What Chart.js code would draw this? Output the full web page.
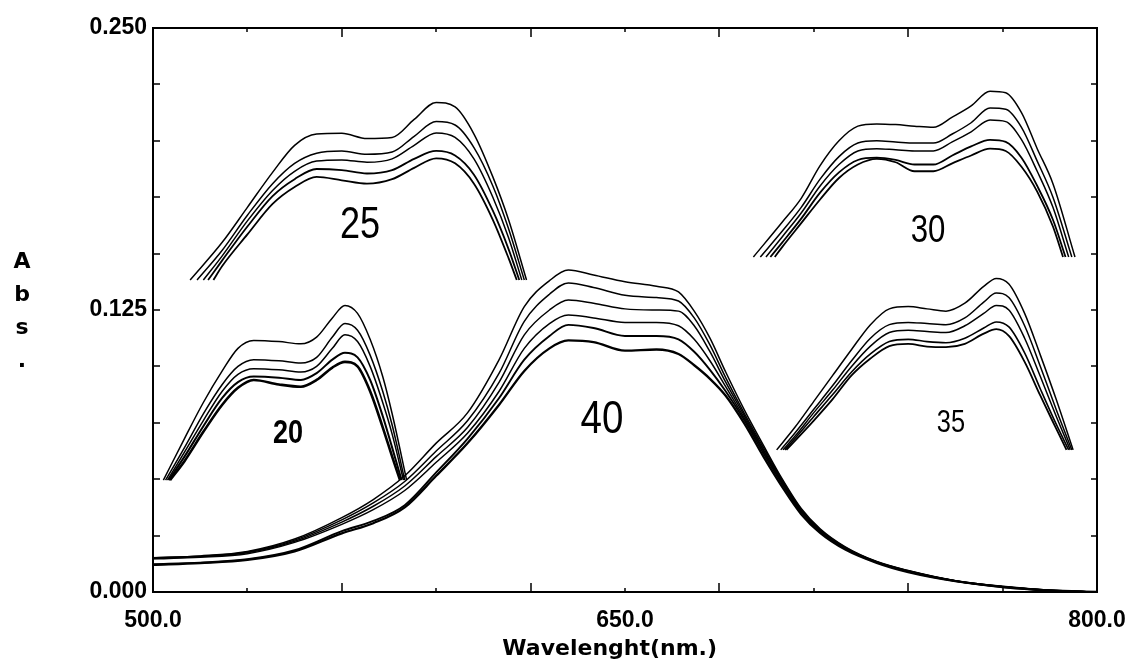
<!DOCTYPE html>
<html>
<head>
<meta charset="utf-8">
<script src="https://cdn.jsdelivr.net/npm/chart.js@4.4.0/dist/chart.umd.min.js"></script>
<style>
  html, body { margin: 0; padding: 0; background: #fff; }
</style>
</head>
<body>
<canvas id="myChart" width="1131" height="671"></canvas>
<script>
// values: wavelength (nm) / absorbance

// big spectrum set "40", six scans, full range
const x40 = [500, 515, 530, 545, 560, 570, 580, 590, 600, 610, 618, 626, 632, 640, 650, 660, 667, 672, 677, 682, 688, 694, 700, 706, 712, 720, 730, 740, 755, 770, 785, 800];
const abs40 = [
  [0.0151, 0.0160, 0.0180, 0.0235, 0.0330, 0.0410, 0.0515, 0.0660, 0.0795, 0.1030, 0.1265, 0.1380, 0.1427, 0.1405, 0.1375, 0.1355, 0.1330, 0.1245, 0.1125, 0.0975, 0.0805, 0.0650, 0.0500, 0.0370, 0.0280, 0.0200, 0.0135, 0.0095, 0.0050, 0.0025, 0.0008, 0.0000],
  [0.0152, 0.0158, 0.0177, 0.0230, 0.0320, 0.0395, 0.0490, 0.0625, 0.0760, 0.0970, 0.1200, 0.1320, 0.1370, 0.1350, 0.1315, 0.1305, 0.1290, 0.1215, 0.1095, 0.0950, 0.0790, 0.0640, 0.0495, 0.0365, 0.0277, 0.0198, 0.0134, 0.0094, 0.0050, 0.0024, 0.0008, 0.0000],
  [0.0149, 0.0156, 0.0174, 0.0225, 0.0310, 0.0380, 0.0470, 0.0600, 0.0730, 0.0930, 0.1140, 0.1250, 0.1294, 0.1280, 0.1255, 0.1250, 0.1245, 0.1180, 0.1065, 0.0930, 0.0780, 0.0630, 0.0490, 0.0360, 0.0274, 0.0196, 0.0133, 0.0093, 0.0049, 0.0023, 0.0007, 0.0000],
  [0.0147, 0.0154, 0.0170, 0.0220, 0.0300, 0.0365, 0.0450, 0.0575, 0.0705, 0.0890, 0.1080, 0.1190, 0.1228, 0.1215, 0.1195, 0.1195, 0.1180, 0.1120, 0.1025, 0.0910, 0.0770, 0.0625, 0.0485, 0.0358, 0.0270, 0.0194, 0.0132, 0.0092, 0.0049, 0.0023, 0.0007, 0.0000],
  [0.0123, 0.0130, 0.0145, 0.0185, 0.0270, 0.0315, 0.0385, 0.0530, 0.0680, 0.0860, 0.1030, 0.1135, 0.1184, 0.1170, 0.1135, 0.1135, 0.1120, 0.1065, 0.0985, 0.0890, 0.0760, 0.0615, 0.0478, 0.0355, 0.0268, 0.0192, 0.0131, 0.0090, 0.0048, 0.0022, 0.0007, 0.0000],
  [0.0120, 0.0128, 0.0142, 0.0180, 0.0260, 0.0305, 0.0375, 0.0515, 0.0660, 0.0830, 0.0980, 0.1080, 0.1115, 0.1108, 0.1070, 0.1075, 0.1055, 0.1005, 0.0945, 0.0870, 0.0745, 0.0600, 0.0465, 0.0345, 0.0262, 0.0188, 0.0129, 0.0088, 0.0048, 0.0022, 0.0007, 0.0000]
];

// small sets, each cut off at its own base level
const x20 = [510, 516, 522, 527, 532, 540, 547, 552, 557, 561, 565, 569, 573, 576];
const start20 = [503.3, 504, 504.6, 505, 505.4];
const end20 = [580.6, 580, 579.6, 579, 578.5];
const base20 = 0.0496;
const abs20 = [
  [0.068, 0.084, 0.098, 0.108, 0.1115, 0.111, 0.110, 0.113, 0.1215, 0.127, 0.1235, 0.112, 0.0955, 0.079],
  [0.064, 0.079, 0.092, 0.100, 0.103, 0.1025, 0.1015, 0.104, 0.113, 0.119, 0.116, 0.105, 0.089, 0.074],
  [0.062, 0.076, 0.089, 0.0965, 0.099, 0.0985, 0.0975, 0.100, 0.108, 0.114, 0.111, 0.100, 0.084, 0.070],
  [0.060, 0.0735, 0.086, 0.093, 0.0955, 0.095, 0.094, 0.097, 0.103, 0.106, 0.104, 0.094, 0.078, 0.064],
  [0.058, 0.071, 0.083, 0.0905, 0.094, 0.092, 0.091, 0.094, 0.0995, 0.102, 0.100, 0.089, 0.073, 0.060]
];

const x25 = [522, 530, 538, 545, 552, 560, 568, 576, 583, 590, 596, 602, 608, 613];
const start25 = [511.8, 514, 516, 517.5, 519.2];
const end25 = [618.7, 618, 617.2, 616.4, 615.6];
const base25 = 0.1383;
const abs25 = [
  [0.155, 0.1705, 0.186, 0.198, 0.203, 0.2033, 0.201, 0.2015, 0.2095, 0.217, 0.215, 0.203, 0.184, 0.165],
  [0.1515, 0.167, 0.181, 0.190, 0.1945, 0.1955, 0.194, 0.195, 0.202, 0.2085, 0.207, 0.197, 0.180, 0.161],
  [0.149, 0.1645, 0.178, 0.1865, 0.191, 0.1915, 0.1905, 0.192, 0.198, 0.2035, 0.2015, 0.192, 0.175, 0.157],
  [0.147, 0.162, 0.1755, 0.183, 0.1875, 0.187, 0.1855, 0.187, 0.192, 0.1955, 0.1935, 0.185, 0.169, 0.152],
  [0.1445, 0.1585, 0.172, 0.1795, 0.184, 0.1825, 0.181, 0.183, 0.188, 0.1922, 0.190, 0.181, 0.165, 0.148]
];

const x30 = [700, 706, 712, 718, 724, 730, 736, 742, 748, 754, 760, 766, 771, 776, 781, 786];
const start30 = [690.8, 693, 694.8, 696.2, 697.6];
const end30 = [793, 792, 791, 790, 789.2];
const base30 = 0.1485;
const abs30 = [
  [0.164, 0.1745, 0.189, 0.200, 0.2065, 0.2075, 0.2072, 0.2065, 0.206, 0.2105, 0.2155, 0.222, 0.2213, 0.2125, 0.1965, 0.181],
  [0.160, 0.1705, 0.183, 0.193, 0.199, 0.200, 0.1995, 0.199, 0.199, 0.203, 0.208, 0.2145, 0.214, 0.206, 0.191, 0.175],
  [0.1575, 0.168, 0.180, 0.1895, 0.1955, 0.1965, 0.196, 0.1955, 0.1955, 0.1995, 0.204, 0.2092, 0.2085, 0.2005, 0.1865, 0.1705],
  [0.155, 0.1655, 0.177, 0.186, 0.1915, 0.1925, 0.1915, 0.1895, 0.1895, 0.1935, 0.1975, 0.2004, 0.1995, 0.1925, 0.180, 0.165],
  [0.153, 0.1635, 0.174, 0.1835, 0.1895, 0.192, 0.1905, 0.1865, 0.1865, 0.190, 0.1935, 0.1965, 0.1955, 0.1885, 0.1775, 0.162]
];

const x35 = [704, 710, 716, 722, 728, 734, 740, 746, 752, 758, 764, 768, 772, 777, 782, 787];
const start35 = [698.2, 699.5, 700.2, 700.8, 701.3];
const end35 = [792.4, 792, 791.5, 791, 790.3];
const base35 = 0.063;
const abs35 = [
  [0.073, 0.0845, 0.096, 0.1075, 0.1185, 0.1255, 0.1265, 0.1255, 0.1245, 0.128, 0.1355, 0.139, 0.1365, 0.1235, 0.105, 0.0855],
  [0.0705, 0.081, 0.0915, 0.1025, 0.1125, 0.1185, 0.1195, 0.119, 0.1185, 0.1215, 0.1285, 0.1325, 0.1305, 0.118, 0.100, 0.081],
  [0.069, 0.0795, 0.0895, 0.100, 0.109, 0.115, 0.116, 0.1155, 0.115, 0.118, 0.1235, 0.127, 0.125, 0.1125, 0.0955, 0.078],
  [0.068, 0.0778, 0.0875, 0.0975, 0.1055, 0.111, 0.112, 0.111, 0.1105, 0.1125, 0.117, 0.1197, 0.1175, 0.106, 0.090, 0.0745],
  [0.067, 0.076, 0.0855, 0.096, 0.1035, 0.109, 0.110, 0.1088, 0.1085, 0.110, 0.1145, 0.1165, 0.1135, 0.102, 0.087, 0.0725]
];

// set names written inside the plot, and where they sit (nm, abs)
const setNames = ['20', '25', '30', '35', '40'];
const nameAt = [[542.9, 0.0700], [565.8, 0.1622], [746.3, 0.1600], [753.6, 0.0745], [642.7, 0.0762]];
const nameFont = [
  'bold 33px "Liberation Sans", sans-serif',
  '44px "Liberation Sans", sans-serif',
  '38px "Liberation Sans", sans-serif',
  '31px "Liberation Sans", sans-serif',
  '47px "Liberation Sans", sans-serif'
];

const yLabelled = [0, 0.125, 0.25];
const xLabelled = [500, 650, 800];
const xLongTicks = [560, 620, 680, 740];

function curve(xs, ys, x0, x1, base) {
  const pts = xs.map((x, i) => ({ x: x, y: ys[i] }));
  if (x0 !== undefined) {
    pts.unshift({ x: x0, y: base });
    pts.push({ x: x1, y: base });
  }
  return pts;
}

const datasets = [];
function addSet(xs, list, starts, ends, base, widths) {
  list.forEach((ys, i) => {
    datasets.push({
      data: curve(xs, ys, starts ? starts[i] : undefined, ends ? ends[i] : undefined, base),
      borderColor: '#000',
      borderWidth: widths[i],
      pointRadius: 0,
      cubicInterpolationMode: 'monotone',
      fill: false
    });
  });
}
addSet(x40, abs40, null, null, 0, [1.5, 1.5, 1.5, 1.5, 1.9, 2.3]);
addSet(x20, abs20, start20, end20, base20, [1.5, 1.5, 1.5, 2, 2.6]);
addSet(x25, abs25, start25, end25, base25, [1.5, 1.5, 1.5, 1.8, 1.8]);
addSet(x30, abs30, start30, end30, base30, [1.5, 1.5, 1.5, 1.8, 1.8]);
addSet(x35, abs35, start35, end35, base35, [1.5, 1.5, 1.5, 1.6, 1.8]);

const near = (v, list) => list.some(u => Math.abs(u - v) < 1e-6);

// frame with inward ticks, set names and the stacked "Abs." title
const frame = {
  id: 'frame',
  afterDatasetsDraw(chart) {
    const { ctx, chartArea: a, scales } = chart;
    ctx.save();
    ctx.strokeStyle = '#000';
    ctx.lineWidth = 2;
    ctx.strokeRect(a.left, a.top, a.right - a.left, a.bottom - a.top);
    ctx.lineWidth = 1.5;
    ctx.beginPath();
    scales.y.ticks.forEach(t => {
      const py = Math.round(scales.y.getPixelForValue(t.value));
      ctx.moveTo(a.left, py); ctx.lineTo(a.left + 7, py);
      ctx.moveTo(a.right, py); ctx.lineTo(a.right - 6, py);
    });
    scales.x.ticks.forEach(t => {
      const px = Math.round(scales.x.getPixelForValue(t.value));
      const len = near(t.value, xLongTicks) ? 9 : 4;
      ctx.moveTo(px, a.bottom); ctx.lineTo(px, a.bottom - len);
      ctx.moveTo(px, a.top); ctx.lineTo(px, a.top + len);
    });
    ctx.stroke();

    ctx.fillStyle = '#000';
    ctx.textAlign = 'center';
    ctx.textBaseline = 'middle';
    setNames.forEach((s, i) => {
      ctx.save();
      ctx.translate(scales.x.getPixelForValue(nameAt[i][0]), scales.y.getPixelForValue(nameAt[i][1]));
      ctx.scale(0.82, 1);
      ctx.font = nameFont[i];
      ctx.fillText(s, 0, 0);
      ctx.restore();
    });

    ctx.font = 'bold 22px "DejaVu Sans", sans-serif';
    ctx.textBaseline = 'alphabetic';
    ['A', 'b', 's', '.'].forEach((c, i) => ctx.fillText(c, 22, 268 + i * 33));
    ctx.restore();
  }
};

new Chart(document.getElementById('myChart'), {
  type: 'line',
  data: { datasets: datasets },
  options: {
    responsive: false,
    devicePixelRatio: 1,
    animation: false,
    layout: { padding: { top: 28, right: 34, left: 0, bottom: 0 } },
    plugins: { legend: { display: false }, tooltip: { enabled: false } },
    scales: {
      x: {
        type: 'linear',
        min: 500,
        max: 800,
        grid: { display: false, drawTicks: false },
        border: { display: false },
        afterFit(s) { s.height = 79; s.paddingLeft = 0; s.paddingRight = 0; },
        ticks: {
          stepSize: 30,
          autoSkip: false,
          maxRotation: 0,
          padding: 15,
          color: '#000',
          font: { family: '"Liberation Sans", sans-serif', weight: 'bold', size: 23 },
          callback: v => near(v, xLabelled) ? Number(v).toFixed(1) : ''
        },
        title: {
          display: true,
          text: 'Wavelenght(nm.)\u00a0\u00a0\u00a0\u00a0',
          color: '#000',
          font: { family: '"DejaVu Sans", sans-serif', weight: 'bold', size: 22 },
          padding: { top: 0, bottom: 9 }
        }
      },
      y: {
        min: 0,
        max: 0.25,
        grid: { display: false, drawTicks: false },
        border: { display: false },
        afterFit(s) { s.width = 153; s.paddingTop = 0; s.paddingBottom = 0; },
        ticks: {
          stepSize: 0.025,
          autoSkip: false,
          padding: 6,
          color: '#000',
          font: { family: '"Liberation Sans", sans-serif', weight: 'bold', size: 23 },
          callback: v => near(v, yLabelled) ? Number(v).toFixed(3) : ''
        }
      }
    }
  },
  plugins: [frame]
});
</script>
</body>
</html>
